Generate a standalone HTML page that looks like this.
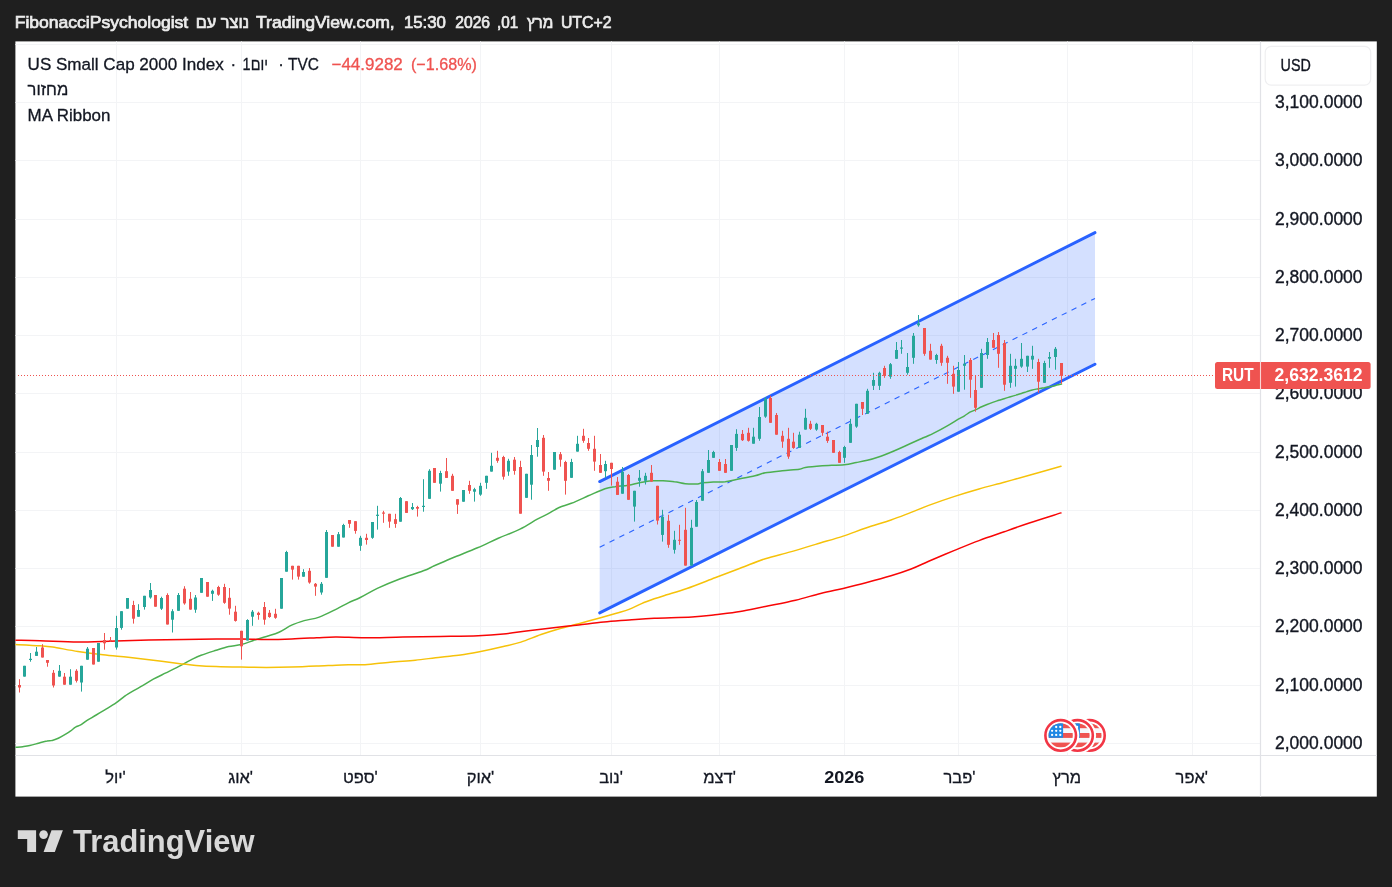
<!DOCTYPE html>
<html lang="he"><head><meta charset="utf-8"><title>RUT chart</title>
<style>html,body{margin:0;padding:0;background:#1f1f1f;width:1392px;height:887px;overflow:hidden}</style></head>
<body>
<svg width="1392" height="887" viewBox="0 0 1392 887" style="display:block;position:absolute;left:0;top:0">
<rect x="0" y="0" width="1392" height="887" fill="#1f1f1f"/>
<rect x="15.4" y="41.4" width="1361.4" height="755.2" fill="#ffffff"/>
<g stroke="#f3f4f6" stroke-width="1" fill="none">
<line x1="116.5" y1="41.4" x2="116.5" y2="755.5"/>
<line x1="241.5" y1="41.4" x2="241.5" y2="755.5"/>
<line x1="360.5" y1="41.4" x2="360.5" y2="755.5"/>
<line x1="480.5" y1="41.4" x2="480.5" y2="755.5"/>
<line x1="611.5" y1="41.4" x2="611.5" y2="755.5"/>
<line x1="719.5" y1="41.4" x2="719.5" y2="755.5"/>
<line x1="844.5" y1="41.4" x2="844.5" y2="755.5"/>
<line x1="958.5" y1="41.4" x2="958.5" y2="755.5"/>
<line x1="1067.5" y1="41.4" x2="1067.5" y2="755.5"/>
<line x1="1192.5" y1="41.4" x2="1192.5" y2="755.5"/>
<line x1="15.4" y1="743.5" x2="1260.5" y2="743.5"/>
<line x1="15.4" y1="685.5" x2="1260.5" y2="685.5"/>
<line x1="15.4" y1="626.5" x2="1260.5" y2="626.5"/>
<line x1="15.4" y1="568.5" x2="1260.5" y2="568.5"/>
<line x1="15.4" y1="510.5" x2="1260.5" y2="510.5"/>
<line x1="15.4" y1="452.5" x2="1260.5" y2="452.5"/>
<line x1="15.4" y1="393.5" x2="1260.5" y2="393.5"/>
<line x1="15.4" y1="335.5" x2="1260.5" y2="335.5"/>
<line x1="15.4" y1="277.5" x2="1260.5" y2="277.5"/>
<line x1="15.4" y1="219.5" x2="1260.5" y2="219.5"/>
<line x1="15.4" y1="160.5" x2="1260.5" y2="160.5"/>
<line x1="15.4" y1="102.5" x2="1260.5" y2="102.5"/>
<line x1="15.4" y1="44.5" x2="1260.5" y2="44.5"/>
</g>
<line x1="1260.5" y1="41.4" x2="1260.5" y2="796.6" stroke="#e1e2e6" stroke-width="1.2"/>
<line x1="15.4" y1="755.5" x2="1376.8" y2="755.5" stroke="#e1e2e6" stroke-width="1.2"/>
<clipPath id="pane"><rect x="15.4" y="41.4" width="1245.1" height="714.1"/></clipPath>
<g clip-path="url(#pane)">
<polygon points="599.7,481.6 1095.0,232.6 1095.0,364.2 599.7,612.9" fill="#2962ff" fill-opacity="0.2"/>
<line x1="599.7" y1="547.2" x2="1095.0" y2="298.4" stroke="#2962ff" stroke-width="1.1" stroke-dasharray="5.5 5.5"/>
<g stroke="#2962ff" stroke-width="2.9" stroke-linecap="round">
<line x1="599.7" y1="481.6" x2="1095.0" y2="232.6"/>
<line x1="599.7" y1="612.9" x2="1095.0" y2="364.2"/>
</g>
<path d="M15.6,747.3C16.8,747.2 20.6,747.0 22.9,746.7C25.3,746.4 27.2,746.2 29.8,745.6C32.4,745.0 35.6,744.0 38.4,743.2C41.3,742.4 44.8,741.3 47.1,740.9C49.4,740.4 50.4,740.9 52.2,740.4C54.1,740.0 56.1,739.3 58.3,738.3C60.4,737.3 63.2,735.6 65.2,734.4C67.2,733.2 68.6,732.4 70.3,731.2C72.1,730.0 73.8,728.1 75.5,727.1C77.2,726.0 78.8,726.0 80.7,724.9C82.6,723.8 84.1,722.3 86.7,720.6C89.3,719.0 93.2,716.8 96.2,715.0C99.2,713.2 101.5,711.8 104.8,709.8C108.1,707.8 112.9,705.1 116.0,702.9C119.2,700.8 121.8,698.4 123.8,696.9C125.8,695.4 125.3,695.5 128.2,693.8C131.0,692.1 136.5,689.2 140.7,686.7C144.9,684.3 149.1,681.5 153.3,679.2C157.5,676.9 161.7,675.0 165.9,672.9C170.1,670.8 174.2,668.8 178.4,666.6C182.6,664.5 187.2,661.7 191.0,659.8C194.8,658.0 196.9,656.9 201.1,655.3C205.3,653.7 211.5,651.8 216.2,650.3C220.8,648.8 224.5,647.5 228.7,646.5C232.9,645.6 237.1,645.6 241.3,644.5C245.5,643.5 249.7,641.6 253.9,640.2C258.1,638.9 262.3,637.8 266.4,636.5C270.6,635.1 274.8,634.1 279.0,632.2C283.2,630.3 287.4,627.1 291.6,625.1C295.8,623.2 299.6,622.0 304.2,620.6C308.8,619.3 313.8,619.1 319.2,617.1C324.7,615.1 332.0,611.2 336.9,608.8C341.7,606.4 344.4,604.7 348.3,602.8C352.2,600.9 355.5,599.9 360.3,597.5C365.2,595.1 370.7,591.5 377.3,588.3C384.0,585.2 392.7,581.6 400.3,578.7C408.0,575.8 417.7,573.0 423.3,570.8C429.0,568.7 429.5,568.0 434.3,565.8C439.2,563.7 445.1,561.0 452.3,558.0C459.5,555.0 469.8,551.1 477.5,547.8C485.2,544.6 491.2,541.4 498.3,538.3C505.4,535.2 513.5,532.4 520.0,529.2C526.5,526.0 532.6,521.8 537.3,519.2C542.1,516.6 544.7,515.6 548.3,513.7C552.0,511.7 555.3,509.2 559.2,507.5C563.0,505.8 566.5,505.3 571.3,503.3C576.2,501.4 582.7,498.3 588.3,495.8C593.9,493.4 600.6,490.2 605.0,488.7C609.4,487.1 611.1,487.2 615.0,486.7C618.9,486.1 624.3,486.0 628.3,485.3C632.4,484.7 635.5,483.6 639.3,482.8C643.2,482.1 647.5,481.2 651.3,480.8C655.2,480.5 658.5,480.7 662.3,480.8C666.2,481.0 670.5,481.2 674.3,481.7C678.2,482.1 681.7,483.3 685.3,483.7C689.0,484.1 693.5,484.1 696.3,484.0C699.2,483.9 699.5,483.2 702.3,482.8C705.2,482.5 709.5,482.2 713.3,482.0C717.2,481.8 721.5,482.1 725.3,481.7C729.2,481.2 731.4,480.5 736.3,479.5C741.3,478.5 750.2,476.9 755.0,475.8C759.8,474.7 760.8,473.7 765.3,472.8C769.9,472.0 776.7,471.4 782.3,470.8C788.0,470.2 795.5,469.7 799.3,469.2C803.2,468.6 801.5,468.1 805.3,467.5C809.2,466.9 815.8,466.3 822.3,465.8C828.8,465.4 838.7,465.2 844.3,464.7C850.0,464.1 852.5,463.2 856.3,462.5C860.2,461.8 863.5,461.3 867.3,460.3C871.2,459.4 875.5,458.0 879.3,456.7C883.2,455.4 883.0,455.6 890.3,452.5C897.7,449.4 916.2,441.0 923.3,437.8C930.5,434.6 929.3,435.3 933.3,433.3C937.3,431.3 943.2,428.2 947.3,425.8C951.5,423.5 955.5,420.8 958.3,419.2C961.2,417.5 962.6,417.0 964.5,415.8C966.4,414.7 968.1,413.2 969.9,412.2C971.7,411.2 973.4,410.8 975.3,409.9C977.3,409.0 979.7,407.7 981.7,406.8C983.6,405.9 985.1,405.3 987.1,404.5C989.0,403.7 991.4,402.8 993.4,402.1C995.3,401.4 997.0,400.9 998.8,400.3C1000.6,399.7 1002.3,399.3 1004.2,398.7C1006.2,398.1 1008.6,397.3 1010.5,396.7C1012.5,396.1 1014.2,395.6 1016.0,395.1C1017.8,394.5 1019.6,394.1 1021.4,393.5C1023.2,392.9 1025.0,392.2 1026.8,391.6C1028.6,391.0 1030.2,390.4 1032.2,389.9C1034.2,389.4 1036.5,389.1 1038.5,388.7C1040.6,388.4 1042.6,388.0 1044.4,387.7C1046.2,387.3 1047.5,387.1 1049.4,386.8C1051.2,386.4 1053.6,385.8 1055.7,385.4C1057.7,384.9 1060.6,384.3 1061.5,384.0" fill="none" stroke="#4caf50" stroke-width="1.5" stroke-linejoin="round" stroke-linecap="round"/>
<path d="M15.0,644.5C19.2,644.7 33.9,645.3 40.1,645.8C46.4,646.2 46.4,646.1 52.7,647.0C59.0,648.0 69.5,650.2 77.9,651.5C86.2,652.8 94.6,653.9 103.0,654.8C111.4,655.8 119.8,656.4 128.2,657.3C136.5,658.3 144.9,659.3 153.3,660.3C161.7,661.4 171.3,662.5 178.4,663.4C185.6,664.2 189.8,664.8 196.0,665.4C202.3,665.9 208.6,666.3 216.2,666.6C223.7,666.9 232.9,667.0 241.3,667.1C249.7,667.3 258.1,667.4 266.4,667.4C274.8,667.4 283.2,667.3 291.6,667.1C300.0,666.9 308.4,666.5 316.7,666.1C325.1,665.8 333.8,665.1 341.9,664.9C349.9,664.6 357.0,665.1 365.0,664.7C373.0,664.2 381.8,662.9 390.1,662.2C398.5,661.4 406.9,661.0 415.3,660.2C423.7,659.3 432.9,658.0 440.4,657.2C448.0,656.3 454.3,656.0 460.5,655.1C466.8,654.3 471.0,653.5 478.2,652.1C485.3,650.7 496.2,648.3 503.3,646.6C510.4,644.9 514.6,644.1 520.9,642.1C527.2,640.1 534.3,636.8 541.0,634.5C547.7,632.2 554.8,630.0 561.1,628.2C567.4,626.4 572.4,625.4 578.7,623.7C585.0,622.0 592.6,619.9 598.8,618.2C605.1,616.4 611.4,614.6 616.4,613.2C621.5,611.7 624.8,611.0 629.0,609.4C633.2,607.8 637.4,605.4 641.6,603.6C645.8,601.8 650.0,600.3 654.2,598.8C658.4,597.4 661.3,596.5 666.7,594.8C672.2,593.1 678.8,591.3 686.9,588.5C694.9,585.7 706.1,581.2 715.0,577.8C723.9,574.4 731.8,571.4 740.1,568.2C748.5,565.1 756.9,561.4 765.3,558.7C773.7,556.0 782.1,554.3 790.4,551.9C798.8,549.5 806.8,547.0 815.6,544.4C824.4,541.7 834.9,538.8 843.2,536.1C851.6,533.3 857.9,530.7 865.9,528.0C873.8,525.3 883.5,522.6 891.0,520.0C898.6,517.4 904.8,514.8 911.1,512.4C917.4,510.0 921.6,508.0 928.7,505.4C935.9,502.7 945.5,499.3 953.9,496.6C962.3,493.9 970.6,491.4 979.0,489.0C987.4,486.6 995.8,484.5 1004.2,482.2C1012.5,479.9 1019.8,477.9 1029.3,475.2C1038.8,472.5 1055.7,467.7 1061.0,466.2" fill="none" stroke="#f6c20a" stroke-width="1.5" stroke-linejoin="round" stroke-linecap="round"/>
<path d="M15.0,640.2C19.2,640.3 29.7,640.4 40.1,640.7C50.6,641.0 65.3,641.9 77.9,642.0C90.4,642.0 100.9,641.4 115.6,641.0C130.2,640.6 149.1,640.1 165.9,639.7C182.6,639.4 203.6,639.1 216.2,639.0C228.7,638.8 232.9,638.9 241.3,639.0C249.7,639.1 258.1,639.5 266.4,639.5C274.8,639.5 283.2,639.3 291.6,639.0C300.0,638.7 309.2,638.1 316.7,637.7C324.3,637.4 328.8,636.9 336.9,637.0C344.9,637.0 354.0,637.8 365.0,637.8C376.0,637.8 390.1,637.2 402.7,637.0C415.3,636.8 427.9,636.7 440.4,636.5C453.0,636.3 467.7,636.2 478.2,635.8C488.6,635.4 494.9,634.9 503.3,634.0C511.7,633.2 520.1,631.8 528.4,630.8C536.8,629.7 545.2,628.7 553.6,627.7C562.0,626.8 570.3,625.9 578.7,625.0C587.1,624.0 595.5,622.8 603.9,622.0C612.3,621.1 620.6,620.6 629.0,619.9C637.4,619.3 643.7,618.7 654.2,618.2C664.6,617.7 681.7,617.5 691.9,616.9C702.0,616.4 707.0,615.7 715.0,614.8C723.0,613.8 731.8,612.9 740.1,611.5C748.5,610.1 756.1,608.3 765.3,606.5C774.5,604.6 786.2,602.4 795.5,600.2C804.7,598.0 812.6,595.4 820.6,593.4C828.6,591.4 835.7,590.1 843.2,588.4C850.8,586.6 857.9,584.9 865.9,582.8C873.8,580.7 883.5,578.1 891.0,575.8C898.6,573.5 904.8,571.4 911.1,569.0C917.4,566.6 921.6,564.3 928.7,561.2C935.9,558.1 945.5,554.1 953.9,550.6C962.3,547.2 970.6,543.7 979.0,540.6C987.4,537.4 995.8,534.7 1004.2,531.8C1012.5,528.8 1019.8,526.1 1029.3,523.0C1038.8,519.8 1055.7,514.6 1061.0,512.9" fill="none" stroke="#f80606" stroke-width="1.5" stroke-linejoin="round" stroke-linecap="round"/>
<g fill="#26a69a">
<rect x="24.00" y="665.8" width="1.0" height="10.8"/>
<rect x="23.00" y="665.8" width="3.0" height="10.8"/>
<rect x="30.00" y="653.0" width="1.0" height="8.7"/>
<rect x="29.00" y="658.8" width="3.0" height="1.2"/>
<rect x="36.00" y="647.0" width="1.0" height="8.8"/>
<rect x="35.00" y="651.7" width="3.0" height="4.2"/>
<rect x="59.00" y="665.0" width="1.0" height="11.7"/>
<rect x="58.00" y="670.8" width="3.0" height="5.8"/>
<rect x="70.00" y="669.2" width="1.0" height="15.5"/>
<rect x="69.00" y="676.7" width="3.0" height="8.0"/>
<rect x="81.00" y="665.8" width="1.0" height="25.8"/>
<rect x="80.00" y="665.8" width="3.0" height="16.7"/>
<rect x="87.00" y="647.0" width="1.0" height="12.7"/>
<rect x="86.00" y="648.7" width="3.0" height="11.0"/>
<rect x="98.00" y="643.0" width="1.0" height="18.7"/>
<rect x="97.00" y="643.0" width="3.0" height="18.7"/>
<rect x="116.00" y="615.8" width="1.0" height="33.8"/>
<rect x="115.00" y="628.0" width="3.0" height="19.5"/>
<rect x="121.00" y="611.2" width="1.0" height="18.5"/>
<rect x="120.00" y="611.2" width="3.0" height="16.7"/>
<rect x="127.00" y="598.0" width="1.0" height="10.7"/>
<rect x="126.00" y="598.0" width="3.0" height="10.7"/>
<rect x="138.00" y="604.2" width="1.0" height="12.5"/>
<rect x="137.00" y="610.0" width="3.0" height="6.7"/>
<rect x="144.00" y="595.8" width="1.0" height="13.8"/>
<rect x="143.00" y="595.8" width="3.0" height="11.2"/>
<rect x="150.00" y="583.0" width="1.0" height="15.7"/>
<rect x="149.00" y="590.0" width="3.0" height="7.5"/>
<rect x="161.00" y="596.7" width="1.0" height="13.3"/>
<rect x="160.00" y="598.0" width="3.0" height="10.7"/>
<rect x="172.00" y="609.2" width="1.0" height="23.3"/>
<rect x="171.00" y="611.2" width="3.0" height="8.5"/>
<rect x="178.00" y="593.0" width="1.0" height="17.8"/>
<rect x="177.00" y="595.0" width="3.0" height="15.8"/>
<rect x="195.00" y="595.0" width="1.0" height="17.8"/>
<rect x="194.00" y="597.5" width="3.0" height="12.2"/>
<rect x="201.00" y="578.0" width="1.0" height="14.8"/>
<rect x="200.00" y="578.0" width="3.0" height="14.8"/>
<rect x="212.00" y="589.7" width="1.0" height="11.2"/>
<rect x="211.00" y="590.8" width="3.0" height="3.0"/>
<rect x="247.00" y="619.2" width="1.0" height="21.3"/>
<rect x="246.00" y="620.0" width="3.0" height="20.5"/>
<rect x="252.00" y="610.0" width="1.0" height="15.8"/>
<rect x="251.00" y="611.7" width="3.0" height="5.0"/>
<rect x="281.00" y="578.0" width="1.0" height="30.7"/>
<rect x="280.00" y="578.0" width="3.0" height="30.7"/>
<rect x="286.00" y="550.8" width="1.0" height="20.8"/>
<rect x="285.00" y="552.0" width="3.0" height="19.7"/>
<rect x="303.00" y="569.2" width="1.0" height="7.5"/>
<rect x="302.00" y="572.0" width="3.0" height="4.7"/>
<rect x="321.00" y="582.0" width="1.0" height="12.7"/>
<rect x="320.00" y="583.8" width="3.0" height="8.7"/>
<rect x="326.00" y="530.0" width="1.0" height="47.8"/>
<rect x="325.00" y="532.0" width="3.0" height="45.8"/>
<rect x="338.00" y="532.0" width="1.0" height="14.7"/>
<rect x="337.00" y="534.2" width="3.0" height="12.5"/>
<rect x="343.00" y="523.8" width="1.0" height="13.7"/>
<rect x="342.00" y="525.0" width="3.0" height="12.5"/>
<rect x="360.00" y="535.8" width="1.0" height="15.0"/>
<rect x="359.00" y="537.8" width="3.0" height="8.0"/>
<rect x="372.00" y="522.0" width="1.0" height="16.8"/>
<rect x="371.00" y="522.0" width="3.0" height="15.8"/>
<rect x="377.00" y="505.8" width="1.0" height="23.8"/>
<rect x="376.00" y="514.7" width="3.0" height="1.2"/>
<rect x="400.00" y="497.0" width="1.0" height="24.7"/>
<rect x="399.00" y="498.0" width="3.0" height="23.7"/>
<rect x="412.00" y="503.0" width="1.0" height="7.0"/>
<rect x="411.00" y="507.0" width="3.0" height="2.2"/>
<rect x="423.00" y="479.2" width="1.0" height="32.5"/>
<rect x="422.00" y="505.8" width="3.0" height="1.2"/>
<rect x="429.00" y="469.2" width="1.0" height="29.7"/>
<rect x="428.00" y="470.8" width="3.0" height="28.0"/>
<rect x="440.00" y="470.8" width="1.0" height="20.8"/>
<rect x="439.00" y="473.0" width="3.0" height="10.7"/>
<rect x="463.00" y="490.0" width="1.0" height="11.7"/>
<rect x="462.00" y="490.0" width="3.0" height="11.7"/>
<rect x="474.00" y="487.8" width="1.0" height="13.8"/>
<rect x="473.00" y="489.2" width="3.0" height="2.5"/>
<rect x="480.00" y="482.8" width="1.0" height="13.0"/>
<rect x="479.00" y="485.8" width="3.0" height="8.8"/>
<rect x="486.00" y="475.8" width="1.0" height="13.0"/>
<rect x="485.00" y="475.8" width="3.0" height="7.0"/>
<rect x="491.00" y="452.8" width="1.0" height="18.8"/>
<rect x="490.00" y="465.8" width="3.0" height="5.8"/>
<rect x="508.00" y="458.8" width="1.0" height="17.0"/>
<rect x="507.00" y="460.8" width="3.0" height="10.8"/>
<rect x="526.00" y="473.8" width="1.0" height="24.0"/>
<rect x="525.00" y="473.8" width="3.0" height="24.0"/>
<rect x="531.00" y="445.0" width="1.0" height="54.7"/>
<rect x="530.00" y="455.0" width="3.0" height="29.7"/>
<rect x="537.00" y="428.0" width="1.0" height="28.7"/>
<rect x="536.00" y="440.0" width="3.0" height="7.0"/>
<rect x="554.00" y="452.0" width="1.0" height="17.7"/>
<rect x="553.00" y="452.0" width="3.0" height="17.7"/>
<rect x="571.00" y="458.8" width="1.0" height="19.0"/>
<rect x="570.00" y="462.0" width="3.0" height="15.8"/>
<rect x="577.00" y="435.8" width="1.0" height="15.8"/>
<rect x="576.00" y="443.8" width="3.0" height="7.8"/>
<rect x="605.00" y="460.8" width="1.0" height="17.0"/>
<rect x="604.00" y="464.0" width="3.0" height="7.2"/>
<rect x="622.00" y="467.0" width="1.0" height="26.7"/>
<rect x="621.00" y="472.0" width="3.0" height="21.7"/>
<rect x="634.00" y="490.8" width="1.0" height="30.8"/>
<rect x="633.00" y="490.8" width="3.0" height="15.8"/>
<rect x="639.00" y="470.0" width="1.0" height="16.7"/>
<rect x="638.00" y="477.8" width="3.0" height="3.0"/>
<rect x="645.00" y="472.8" width="1.0" height="11.7"/>
<rect x="644.00" y="475.8" width="3.0" height="5.0"/>
<rect x="662.00" y="509.8" width="1.0" height="31.8"/>
<rect x="661.00" y="516.7" width="3.0" height="18.2"/>
<rect x="674.00" y="530.8" width="1.0" height="22.8"/>
<rect x="673.00" y="539.8" width="3.0" height="10.0"/>
<rect x="691.00" y="519.8" width="1.0" height="45.8"/>
<rect x="690.00" y="527.8" width="3.0" height="37.8"/>
<rect x="696.00" y="500.0" width="1.0" height="26.7"/>
<rect x="695.00" y="502.0" width="3.0" height="24.7"/>
<rect x="702.00" y="469.0" width="1.0" height="31.7"/>
<rect x="701.00" y="471.2" width="3.0" height="29.5"/>
<rect x="708.00" y="450.0" width="1.0" height="22.8"/>
<rect x="707.00" y="460.0" width="3.0" height="12.8"/>
<rect x="713.00" y="450.8" width="1.0" height="7.0"/>
<rect x="712.00" y="452.0" width="3.0" height="5.8"/>
<rect x="731.00" y="445.0" width="1.0" height="25.8"/>
<rect x="730.00" y="445.0" width="3.0" height="25.8"/>
<rect x="736.00" y="429.2" width="1.0" height="21.7"/>
<rect x="735.00" y="433.9" width="3.0" height="14.0"/>
<rect x="753.00" y="427.8" width="1.0" height="15.8"/>
<rect x="752.00" y="436.7" width="3.0" height="7.0"/>
<rect x="759.00" y="407.0" width="1.0" height="33.8"/>
<rect x="758.00" y="417.0" width="3.0" height="21.8"/>
<rect x="765.00" y="397.0" width="1.0" height="20.8"/>
<rect x="764.00" y="398.8" width="3.0" height="17.8"/>
<rect x="799.00" y="431.7" width="1.0" height="16.2"/>
<rect x="798.00" y="434.7" width="3.0" height="13.2"/>
<rect x="805.00" y="408.8" width="1.0" height="20.8"/>
<rect x="804.00" y="417.8" width="3.0" height="11.8"/>
<rect x="816.00" y="422.8" width="1.0" height="8.0"/>
<rect x="815.00" y="423.8" width="3.0" height="5.8"/>
<rect x="844.00" y="445.8" width="1.0" height="17.0"/>
<rect x="843.00" y="447.0" width="3.0" height="10.8"/>
<rect x="850.00" y="418.8" width="1.0" height="24.0"/>
<rect x="849.00" y="423.8" width="3.0" height="19.0"/>
<rect x="856.00" y="403.8" width="1.0" height="24.0"/>
<rect x="855.00" y="403.8" width="3.0" height="22.8"/>
<rect x="867.00" y="388.8" width="1.0" height="25.0"/>
<rect x="866.00" y="390.8" width="3.0" height="23.0"/>
<rect x="873.00" y="372.8" width="1.0" height="17.2"/>
<rect x="872.00" y="380.0" width="3.0" height="5.8"/>
<rect x="879.00" y="371.7" width="1.0" height="18.3"/>
<rect x="878.00" y="372.8" width="3.0" height="13.0"/>
<rect x="890.00" y="363.0" width="1.0" height="15.8"/>
<rect x="889.00" y="364.2" width="3.0" height="12.5"/>
<rect x="896.00" y="342.0" width="1.0" height="16.8"/>
<rect x="895.00" y="350.0" width="3.0" height="8.8"/>
<rect x="901.00" y="340.0" width="1.0" height="13.8"/>
<rect x="900.00" y="347.5" width="3.0" height="1.2"/>
<rect x="907.00" y="353.0" width="1.0" height="21.7"/>
<rect x="906.00" y="367.0" width="3.0" height="5.8"/>
<rect x="913.00" y="333.0" width="1.0" height="30.8"/>
<rect x="912.00" y="335.8" width="3.0" height="22.0"/>
<rect x="918.00" y="315.0" width="1.0" height="11.7"/>
<rect x="917.00" y="323.3" width="3.0" height="2.0"/>
<rect x="936.00" y="353.8" width="1.0" height="10.0"/>
<rect x="935.00" y="355.0" width="3.0" height="5.0"/>
<rect x="958.00" y="362.0" width="1.0" height="29.7"/>
<rect x="957.00" y="370.0" width="3.0" height="21.7"/>
<rect x="964.00" y="355.0" width="1.0" height="34.7"/>
<rect x="963.00" y="363.8" width="3.0" height="2.0"/>
<rect x="981.00" y="348.8" width="1.0" height="39.0"/>
<rect x="980.00" y="353.0" width="3.0" height="34.8"/>
<rect x="987.00" y="338.0" width="1.0" height="20.8"/>
<rect x="986.00" y="342.0" width="3.0" height="13.0"/>
<rect x="1010.00" y="353.8" width="1.0" height="34.0"/>
<rect x="1009.00" y="365.8" width="3.0" height="17.0"/>
<rect x="1015.00" y="358.8" width="1.0" height="27.8"/>
<rect x="1014.00" y="365.8" width="3.0" height="3.0"/>
<rect x="1021.00" y="343.0" width="1.0" height="24.8"/>
<rect x="1020.00" y="358.8" width="3.0" height="7.8"/>
<rect x="1027.00" y="355.8" width="1.0" height="16.2"/>
<rect x="1026.00" y="355.8" width="3.0" height="10.8"/>
<rect x="1032.00" y="345.8" width="1.0" height="23.0"/>
<rect x="1031.00" y="355.8" width="3.0" height="3.8"/>
<rect x="1044.00" y="360.8" width="1.0" height="22.0"/>
<rect x="1043.00" y="363.0" width="3.0" height="19.8"/>
<rect x="1049.00" y="352.0" width="1.0" height="15.8"/>
<rect x="1048.00" y="357.0" width="3.0" height="1.7"/>
<rect x="1055.00" y="347.0" width="1.0" height="22.7"/>
<rect x="1054.00" y="348.8" width="3.0" height="8.2"/>
</g>
<g fill="#ef5350">
<rect x="19.00" y="679.2" width="1.0" height="13.3"/>
<rect x="18.00" y="685.0" width="3.0" height="2.5"/>
<rect x="42.00" y="644.2" width="1.0" height="13.3"/>
<rect x="41.00" y="647.5" width="3.0" height="10.0"/>
<rect x="47.00" y="660.0" width="1.0" height="6.7"/>
<rect x="46.00" y="660.0" width="3.0" height="2.8"/>
<rect x="53.00" y="670.0" width="1.0" height="17.5"/>
<rect x="52.00" y="672.8" width="3.0" height="12.7"/>
<rect x="64.00" y="673.0" width="1.0" height="11.7"/>
<rect x="63.00" y="676.7" width="3.0" height="8.0"/>
<rect x="76.00" y="669.2" width="1.0" height="13.3"/>
<rect x="75.00" y="670.8" width="3.0" height="10.0"/>
<rect x="93.00" y="648.0" width="1.0" height="16.5"/>
<rect x="92.00" y="648.0" width="3.0" height="16.5"/>
<rect x="104.00" y="633.0" width="1.0" height="16.7"/>
<rect x="103.00" y="640.0" width="3.0" height="3.3"/>
<rect x="110.00" y="637.0" width="1.0" height="4.7"/>
<rect x="109.00" y="640.0" width="3.0" height="1.3"/>
<rect x="133.00" y="600.8" width="1.0" height="22.8"/>
<rect x="132.00" y="605.0" width="3.0" height="13.7"/>
<rect x="155.00" y="595.0" width="1.0" height="11.7"/>
<rect x="154.00" y="595.0" width="3.0" height="11.7"/>
<rect x="167.00" y="593.3" width="1.0" height="31.2"/>
<rect x="166.00" y="595.0" width="3.0" height="29.5"/>
<rect x="184.00" y="586.2" width="1.0" height="18.5"/>
<rect x="183.00" y="588.7" width="3.0" height="14.7"/>
<rect x="190.00" y="592.0" width="1.0" height="17.7"/>
<rect x="189.00" y="598.8" width="3.0" height="10.8"/>
<rect x="207.00" y="582.0" width="1.0" height="14.7"/>
<rect x="206.00" y="582.0" width="3.0" height="14.7"/>
<rect x="218.00" y="585.8" width="1.0" height="10.0"/>
<rect x="217.00" y="587.0" width="3.0" height="7.7"/>
<rect x="224.00" y="583.8" width="1.0" height="20.0"/>
<rect x="223.00" y="587.0" width="3.0" height="15.8"/>
<rect x="229.00" y="588.0" width="1.0" height="26.7"/>
<rect x="228.00" y="597.8" width="3.0" height="10.8"/>
<rect x="235.00" y="605.8" width="1.0" height="15.8"/>
<rect x="234.00" y="611.7" width="3.0" height="9.2"/>
<rect x="241.00" y="630.8" width="1.0" height="28.8"/>
<rect x="240.00" y="630.8" width="3.0" height="15.5"/>
<rect x="258.00" y="611.7" width="1.0" height="8.0"/>
<rect x="257.00" y="612.8" width="3.0" height="2.2"/>
<rect x="264.00" y="602.0" width="1.0" height="22.7"/>
<rect x="263.00" y="607.0" width="3.0" height="12.7"/>
<rect x="269.00" y="610.0" width="1.0" height="7.8"/>
<rect x="268.00" y="612.8" width="3.0" height="4.2"/>
<rect x="275.00" y="608.8" width="1.0" height="10.0"/>
<rect x="274.00" y="613.8" width="3.0" height="4.0"/>
<rect x="292.00" y="565.8" width="1.0" height="13.8"/>
<rect x="291.00" y="565.8" width="3.0" height="3.8"/>
<rect x="298.00" y="565.8" width="1.0" height="13.8"/>
<rect x="297.00" y="565.8" width="3.0" height="10.8"/>
<rect x="309.00" y="568.0" width="1.0" height="15.7"/>
<rect x="308.00" y="570.8" width="3.0" height="11.7"/>
<rect x="315.00" y="583.0" width="1.0" height="12.8"/>
<rect x="314.00" y="583.8" width="3.0" height="2.8"/>
<rect x="332.00" y="535.0" width="1.0" height="11.7"/>
<rect x="331.00" y="535.0" width="3.0" height="11.7"/>
<rect x="349.00" y="520.0" width="1.0" height="7.8"/>
<rect x="348.00" y="520.0" width="3.0" height="3.8"/>
<rect x="355.00" y="521.2" width="1.0" height="12.5"/>
<rect x="354.00" y="521.2" width="3.0" height="9.7"/>
<rect x="366.00" y="533.8" width="1.0" height="10.8"/>
<rect x="365.00" y="537.8" width="3.0" height="2.2"/>
<rect x="383.00" y="510.8" width="1.0" height="12.0"/>
<rect x="382.00" y="512.5" width="3.0" height="1.2"/>
<rect x="389.00" y="513.8" width="1.0" height="14.0"/>
<rect x="388.00" y="513.8" width="3.0" height="7.8"/>
<rect x="395.00" y="513.8" width="1.0" height="14.0"/>
<rect x="394.00" y="519.2" width="3.0" height="4.7"/>
<rect x="406.00" y="501.2" width="1.0" height="11.7"/>
<rect x="405.00" y="501.2" width="3.0" height="11.7"/>
<rect x="417.00" y="505.8" width="1.0" height="10.8"/>
<rect x="416.00" y="507.0" width="3.0" height="1.7"/>
<rect x="434.00" y="468.0" width="1.0" height="14.8"/>
<rect x="433.00" y="468.0" width="3.0" height="14.8"/>
<rect x="446.00" y="458.0" width="1.0" height="19.8"/>
<rect x="445.00" y="471.2" width="3.0" height="6.7"/>
<rect x="452.00" y="473.8" width="1.0" height="17.0"/>
<rect x="451.00" y="475.8" width="3.0" height="15.0"/>
<rect x="457.00" y="499.2" width="1.0" height="14.7"/>
<rect x="456.00" y="499.2" width="3.0" height="5.5"/>
<rect x="469.00" y="480.8" width="1.0" height="13.0"/>
<rect x="468.00" y="485.0" width="3.0" height="5.8"/>
<rect x="497.00" y="450.8" width="1.0" height="12.0"/>
<rect x="496.00" y="457.8" width="3.0" height="3.0"/>
<rect x="503.00" y="455.8" width="1.0" height="23.8"/>
<rect x="502.00" y="457.0" width="3.0" height="19.7"/>
<rect x="514.00" y="457.0" width="1.0" height="17.7"/>
<rect x="513.00" y="459.7" width="3.0" height="11.2"/>
<rect x="520.00" y="460.8" width="1.0" height="52.8"/>
<rect x="519.00" y="467.0" width="3.0" height="46.7"/>
<rect x="543.00" y="435.0" width="1.0" height="40.8"/>
<rect x="542.00" y="437.8" width="3.0" height="33.8"/>
<rect x="548.00" y="472.0" width="1.0" height="18.8"/>
<rect x="547.00" y="478.0" width="3.0" height="2.8"/>
<rect x="560.00" y="452.0" width="1.0" height="14.7"/>
<rect x="559.00" y="454.2" width="3.0" height="5.5"/>
<rect x="565.00" y="460.8" width="1.0" height="33.8"/>
<rect x="564.00" y="462.0" width="3.0" height="18.8"/>
<rect x="583.00" y="428.8" width="1.0" height="14.0"/>
<rect x="582.00" y="435.8" width="3.0" height="5.0"/>
<rect x="588.00" y="438.0" width="1.0" height="12.8"/>
<rect x="587.00" y="443.0" width="3.0" height="5.8"/>
<rect x="594.00" y="435.8" width="1.0" height="35.0"/>
<rect x="593.00" y="448.8" width="3.0" height="12.8"/>
<rect x="600.00" y="454.0" width="1.0" height="18.8"/>
<rect x="599.00" y="465.0" width="3.0" height="7.8"/>
<rect x="611.00" y="462.8" width="1.0" height="22.8"/>
<rect x="610.00" y="462.8" width="3.0" height="6.2"/>
<rect x="617.00" y="477.0" width="1.0" height="17.8"/>
<rect x="616.00" y="481.7" width="3.0" height="13.2"/>
<rect x="628.00" y="474.0" width="1.0" height="25.8"/>
<rect x="627.00" y="475.0" width="3.0" height="24.8"/>
<rect x="651.00" y="465.0" width="1.0" height="16.7"/>
<rect x="650.00" y="472.8" width="3.0" height="8.8"/>
<rect x="657.00" y="485.8" width="1.0" height="38.7"/>
<rect x="656.00" y="485.8" width="3.0" height="34.8"/>
<rect x="668.00" y="514.8" width="1.0" height="33.0"/>
<rect x="667.00" y="520.8" width="3.0" height="24.0"/>
<rect x="679.00" y="524.8" width="1.0" height="20.0"/>
<rect x="678.00" y="539.8" width="3.0" height="1.0"/>
<rect x="685.00" y="507.8" width="1.0" height="57.8"/>
<rect x="684.00" y="529.8" width="3.0" height="35.8"/>
<rect x="719.00" y="459.0" width="1.0" height="11.8"/>
<rect x="718.00" y="462.0" width="3.0" height="8.8"/>
<rect x="725.00" y="459.0" width="1.0" height="13.8"/>
<rect x="724.00" y="464.0" width="3.0" height="8.8"/>
<rect x="742.00" y="430.0" width="1.0" height="11.0"/>
<rect x="741.00" y="433.9" width="3.0" height="6.3"/>
<rect x="748.00" y="427.8" width="1.0" height="13.8"/>
<rect x="747.00" y="432.8" width="3.0" height="8.0"/>
<rect x="770.00" y="395.8" width="1.0" height="27.0"/>
<rect x="769.00" y="398.0" width="3.0" height="24.8"/>
<rect x="776.00" y="413.0" width="1.0" height="21.7"/>
<rect x="775.00" y="415.0" width="3.0" height="19.7"/>
<rect x="782.00" y="430.8" width="1.0" height="17.0"/>
<rect x="781.00" y="435.8" width="3.0" height="5.8"/>
<rect x="788.00" y="427.8" width="1.0" height="31.0"/>
<rect x="787.00" y="438.8" width="3.0" height="17.8"/>
<rect x="793.00" y="432.8" width="1.0" height="16.0"/>
<rect x="792.00" y="441.7" width="3.0" height="6.2"/>
<rect x="810.00" y="420.8" width="1.0" height="9.2"/>
<rect x="809.00" y="423.8" width="3.0" height="5.0"/>
<rect x="822.00" y="425.0" width="1.0" height="10.8"/>
<rect x="821.00" y="425.0" width="3.0" height="7.8"/>
<rect x="827.00" y="431.7" width="1.0" height="11.2"/>
<rect x="826.00" y="436.7" width="3.0" height="4.2"/>
<rect x="833.00" y="440.0" width="1.0" height="12.8"/>
<rect x="832.00" y="440.0" width="3.0" height="12.8"/>
<rect x="839.00" y="450.8" width="1.0" height="12.0"/>
<rect x="838.00" y="452.0" width="3.0" height="10.8"/>
<rect x="862.00" y="402.0" width="1.0" height="13.0"/>
<rect x="861.00" y="402.0" width="3.0" height="6.8"/>
<rect x="884.00" y="365.8" width="1.0" height="12.0"/>
<rect x="883.00" y="368.0" width="3.0" height="7.8"/>
<rect x="924.00" y="328.0" width="1.0" height="27.8"/>
<rect x="923.00" y="328.0" width="3.0" height="25.8"/>
<rect x="930.00" y="343.8" width="1.0" height="15.8"/>
<rect x="929.00" y="350.8" width="3.0" height="8.8"/>
<rect x="941.00" y="343.8" width="1.0" height="22.0"/>
<rect x="940.00" y="345.8" width="3.0" height="17.0"/>
<rect x="947.00" y="355.8" width="1.0" height="28.0"/>
<rect x="946.00" y="357.8" width="3.0" height="5.0"/>
<rect x="953.00" y="365.8" width="1.0" height="28.0"/>
<rect x="952.00" y="373.8" width="3.0" height="12.8"/>
<rect x="970.00" y="358.0" width="1.0" height="39.8"/>
<rect x="969.00" y="360.0" width="3.0" height="19.7"/>
<rect x="975.00" y="375.0" width="1.0" height="36.7"/>
<rect x="974.00" y="390.0" width="3.0" height="17.8"/>
<rect x="993.00" y="333.0" width="1.0" height="14.8"/>
<rect x="992.00" y="340.0" width="3.0" height="7.8"/>
<rect x="998.00" y="332.0" width="1.0" height="35.8"/>
<rect x="997.00" y="335.0" width="3.0" height="18.8"/>
<rect x="1004.00" y="340.0" width="1.0" height="50.8"/>
<rect x="1003.00" y="343.0" width="3.0" height="41.7"/>
<rect x="1038.00" y="358.8" width="1.0" height="34.0"/>
<rect x="1037.00" y="362.0" width="3.0" height="19.7"/>
<rect x="1061.00" y="363.0" width="1.0" height="20.8"/>
<rect x="1060.00" y="363.0" width="3.0" height="12.8"/>
</g>
</g>
<line x1="18" y1="375.5" x2="1213" y2="375.5" stroke="#ef5350" stroke-width="1" stroke-dasharray="1 2"/>
<g font-family='"Liberation Sans", "DejaVu Sans", sans-serif' font-size="17.5" fill="#131722" stroke="#131722" stroke-width="0.35" text-anchor="end">
<text x="1362.6" y="748.9">2,000.0000</text>
<text x="1362.6" y="690.6">2,100.0000</text>
<text x="1362.6" y="632.4">2,200.0000</text>
<text x="1362.6" y="574.1">2,300.0000</text>
<text x="1362.6" y="515.8">2,400.0000</text>
<text x="1362.6" y="457.5">2,500.0000</text>
<text x="1362.6" y="399.3">2,600.0000</text>
<text x="1362.6" y="341.0">2,700.0000</text>
<text x="1362.6" y="282.7">2,800.0000</text>
<text x="1362.6" y="224.5">2,900.0000</text>
<text x="1362.6" y="166.2">3,000.0000</text>
<text x="1362.6" y="107.9">3,100.0000</text>
</g>
<rect x="1265.2" y="46.3" width="105.5" height="38.8" rx="6" ry="6" fill="#fff" stroke="#efeff1" stroke-width="1.2"/>
<text x="1280.6" y="71.4" font-family='"Liberation Sans", "DejaVu Sans", sans-serif' font-size="16.8" fill="#131722" stroke="#131722" stroke-width="0.35" textLength="30.2" lengthAdjust="spacingAndGlyphs">USD</text>
<rect x="1215" y="362" width="155.6" height="27" rx="2.5" ry="2.5" fill="#ef5350"/>
<line x1="1260.5" y1="362" x2="1260.5" y2="389" stroke="#ffffff" stroke-opacity="0.75" stroke-width="1.1"/>
<g font-family='"Liberation Sans", "DejaVu Sans", sans-serif' font-size="17.6" font-weight="bold" fill="#ffffff">
<text x="1222" y="381.1" textLength="31.6" lengthAdjust="spacingAndGlyphs">RUT</text>
<text x="1362.6" y="381.1" text-anchor="end">2,632.3612</text>
</g>
<g font-family='"Liberation Sans", "DejaVu Sans", sans-serif' font-size="16.5" fill="#131722" stroke="#131722" stroke-width="0.3" text-anchor="middle">
<text x="115.5" y="783.3">יול'</text>
<text x="240.6" y="783.3">אוג'</text>
<text x="360.4" y="783.3">ספט'</text>
<text x="480.5" y="783.3">אוק'</text>
<text x="611.0" y="783.3">נוב'</text>
<text x="719.5" y="783.3">דצמ'</text>
<text x="959.5" y="783.3">פבר'</text>
<text x="1066.8" y="783.3">מרץ</text>
<text x="1191.8" y="783.3">אפר'</text>
<text x="844.3" y="783.3" font-weight="bold" stroke="none" textLength="40.3" lengthAdjust="spacingAndGlyphs">2026</text>
</g>
<g font-family='"Liberation Sans", "DejaVu Sans", sans-serif' font-size="16.8" fill="#131722" stroke="#131722" stroke-width="0.3">
<text x="27.6" y="69.8" textLength="196.1" lengthAdjust="spacingAndGlyphs">US Small Cap 2000 Index</text>
<text x="230.6" y="69.8">·</text>
<text x="242.6" y="69.8" textLength="25.3" lengthAdjust="spacingAndGlyphs">1יום</text>
<text x="278.2" y="69.8">·</text>
<text x="288.1" y="69.8" textLength="30.9" lengthAdjust="spacingAndGlyphs">TVC</text>
<text x="331.5" y="70.1" textLength="71.3" lengthAdjust="spacingAndGlyphs" fill="#ef5350" stroke="#ef5350">−44.9282</text>
<text x="411" y="70.1" textLength="65.9" lengthAdjust="spacingAndGlyphs" fill="#ef5350" stroke="#ef5350">(−1.68%)</text>
<text x="27.6" y="95.2" textLength="40.7" lengthAdjust="spacingAndGlyphs">מחזור</text>
<text x="27.6" y="121" textLength="82.8" lengthAdjust="spacingAndGlyphs">MA Ribbon</text>
</g>
<g font-family='"Liberation Sans", "DejaVu Sans", sans-serif' font-size="16.4" fill="#ececec" stroke="#ececec" stroke-width="0.7">
<text x="14.7" y="28.3" textLength="173.5" lengthAdjust="spacingAndGlyphs">FibonacciPsychologist</text>
<text x="195.7" y="28.3" textLength="53.3" lengthAdjust="spacingAndGlyphs">נוצר עם</text>
<text x="256" y="28.3" textLength="138.7" lengthAdjust="spacingAndGlyphs">TradingView.com,</text>
<text x="403.9" y="28.3" textLength="42.1" lengthAdjust="spacingAndGlyphs">15:30</text>
<text x="455.2" y="28.3" textLength="34.9" lengthAdjust="spacingAndGlyphs">2026</text>
<text x="497" y="28.3" textLength="21.2" lengthAdjust="spacingAndGlyphs">,01</text>
<text x="526.9" y="28.3" textLength="26.4" lengthAdjust="spacingAndGlyphs">מרץ</text>
<text x="560.9" y="28.3" textLength="50.6" lengthAdjust="spacingAndGlyphs">UTC+2</text>
</g>
<g transform="translate(1089.4,735.4)"><circle r="18.6" fill="#ffffff"/><circle r="15.3" fill="#ffffff" stroke="#f23645" stroke-width="2.6"/><clipPath id="fc3"><circle r="12.1"/></clipPath><g clip-path="url(#fc3)"><rect x="-13" y="-13" width="26" height="26" fill="#f5f7fa"/><rect x="-13" y="-12.1" width="26" height="4.9" fill="#ef5350"/><rect x="-13" y="-2.4" width="26" height="4.9" fill="#ef5350"/><rect x="-13" y="7.2" width="26" height="4.9" fill="#ef5350"/><rect x="-13" y="-13" width="15.4" height="15.4" fill="#1e88e5"/><circle cx="-4.5" cy="-8.4" r="1.15" fill="#ffffff"/><circle cx="-0.4" cy="-8.4" r="1.15" fill="#ffffff"/><circle cx="-8.6" cy="-4.6" r="1.15" fill="#ffffff"/><circle cx="-4.5" cy="-4.6" r="1.15" fill="#ffffff"/><circle cx="-0.4" cy="-4.6" r="1.15" fill="#ffffff"/><circle cx="-8.6" cy="-0.5" r="1.15" fill="#ffffff"/><circle cx="-4.5" cy="-0.5" r="1.15" fill="#ffffff"/><circle cx="-0.4" cy="-0.5" r="1.15" fill="#ffffff"/></g></g>
<g transform="translate(1077.5,735.4)"><circle r="18.6" fill="#ffffff"/><circle r="15.3" fill="#ffffff" stroke="#f23645" stroke-width="2.6"/><clipPath id="fc2"><circle r="12.1"/></clipPath><g clip-path="url(#fc2)"><rect x="-13" y="-13" width="26" height="26" fill="#f5f7fa"/><rect x="-13" y="-12.1" width="26" height="4.9" fill="#ef5350"/><rect x="-13" y="-2.4" width="26" height="4.9" fill="#ef5350"/><rect x="-13" y="7.2" width="26" height="4.9" fill="#ef5350"/><rect x="-13" y="-13" width="15.4" height="15.4" fill="#1e88e5"/><circle cx="-4.5" cy="-8.4" r="1.15" fill="#ffffff"/><circle cx="-0.4" cy="-8.4" r="1.15" fill="#ffffff"/><circle cx="-8.6" cy="-4.6" r="1.15" fill="#ffffff"/><circle cx="-4.5" cy="-4.6" r="1.15" fill="#ffffff"/><circle cx="-0.4" cy="-4.6" r="1.15" fill="#ffffff"/><circle cx="-8.6" cy="-0.5" r="1.15" fill="#ffffff"/><circle cx="-4.5" cy="-0.5" r="1.15" fill="#ffffff"/><circle cx="-0.4" cy="-0.5" r="1.15" fill="#ffffff"/></g></g>
<g transform="translate(1060.7,735.4)"><circle r="18.6" fill="#ffffff"/><circle r="15.3" fill="#ffffff" stroke="#f23645" stroke-width="2.6"/><clipPath id="fc1"><circle r="12.1"/></clipPath><g clip-path="url(#fc1)"><rect x="-13" y="-13" width="26" height="26" fill="#f5f7fa"/><rect x="-13" y="-12.1" width="26" height="4.9" fill="#ef5350"/><rect x="-13" y="-2.4" width="26" height="4.9" fill="#ef5350"/><rect x="-13" y="7.2" width="26" height="4.9" fill="#ef5350"/><rect x="-13" y="-13" width="15.4" height="15.4" fill="#1e88e5"/><circle cx="-4.5" cy="-8.4" r="1.15" fill="#ffffff"/><circle cx="-0.4" cy="-8.4" r="1.15" fill="#ffffff"/><circle cx="-8.6" cy="-4.6" r="1.15" fill="#ffffff"/><circle cx="-4.5" cy="-4.6" r="1.15" fill="#ffffff"/><circle cx="-0.4" cy="-4.6" r="1.15" fill="#ffffff"/><circle cx="-8.6" cy="-0.5" r="1.15" fill="#ffffff"/><circle cx="-4.5" cy="-0.5" r="1.15" fill="#ffffff"/><circle cx="-0.4" cy="-0.5" r="1.15" fill="#ffffff"/></g></g>
<g fill="#d9d9d9">
<path d="M17.8,830.3H36.1V852H27.2V838.9H17.8Z"/>
<circle cx="43.6" cy="834.6" r="4.3"/>
<path d="M51.5,830.3H62.9L54.8,852H43.6Z"/>
</g>
<text x="73" y="852" font-family='"Liberation Sans", "DejaVu Sans", sans-serif' font-size="31" font-weight="bold" fill="#d9d9d9" id="tv" textLength="181.5" lengthAdjust="spacingAndGlyphs">TradingView</text>
</svg>
</body></html>
